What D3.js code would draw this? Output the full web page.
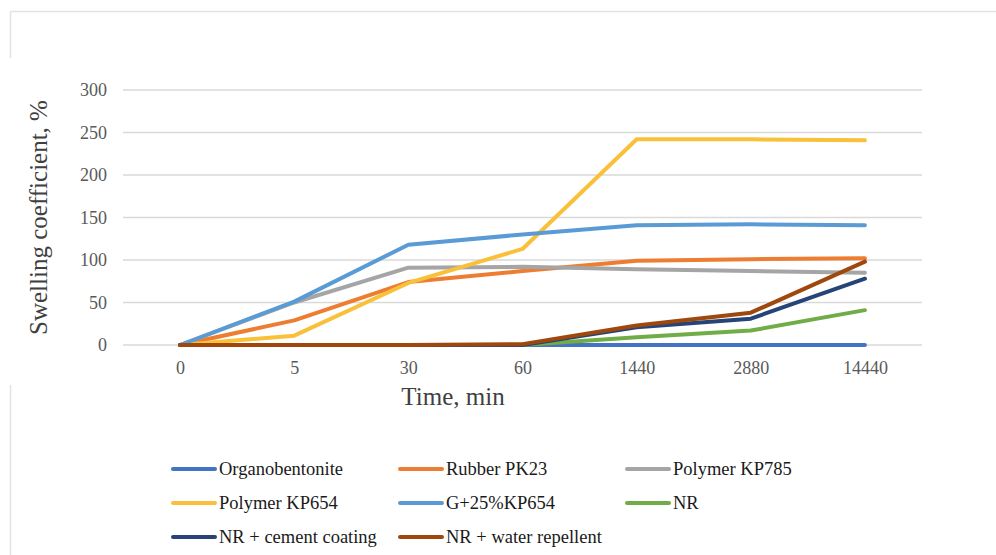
<!DOCTYPE html>
<html>
<head>
<meta charset="utf-8">
<script src="https://cdn.jsdelivr.net/npm/d3@7"></script>
<style>
  html, body { margin: 0; padding: 0; background: #fff; }
  svg { display: block; }
  text { font-family: "Liberation Serif", "Times New Roman", serif; }
</style>
</head>
<body>
<svg id="chart" width="996" height="555"></svg>
<script>
// Time points (min) on the category axis
const times = ["0", "5", "30", "60", "1440", "2880", "14440"];

// Swelling coefficient (%) per material
const organobentonite   = [0, 0, 0, 0, 0, 0, 0];
const rubberPK23        = [0, 29, 74, 87, 99, 101, 102];
const polymerKP785      = [0, 50, 91, 92, 89, 87, 85];
const polymerKP654      = [0, 11, 73, 113, 242, 242, 241];
const g25KP654          = [0, 51, 118, 130, 141, 142, 141];
const nr                = [0, 0, 0, 0, 9, 17, 41];
const nrCement          = [0, 0, 0, 0, 21, 31, 78];
const nrWaterRepellent  = [0, 0, 0, 1, 23, 38, 98];

const yTicks = [0, 50, 100, 150, 200, 250, 300];

const seriesNames  = ["Organobentonite", "Rubber PK23", "Polymer KP785", "Polymer KP654",
                      "G+25%KP654", "NR", "NR + cement coating", "NR + water repellent"];
const seriesValues = [organobentonite, rubberPK23, polymerKP785, polymerKP654,
                      g25KP654, nr, nrCement, nrWaterRepellent];
const seriesColors = ["#4472C4", "#ED7D31", "#A5A5A5", "#F9C03A",
                      "#5B9BD5", "#70AD47", "#264478", "#9E480E"];

const svg = d3.select("#chart");

// Partial frame around the chart area
const frame = svg.append("g").attr("stroke", "#e3e3e3").attr("stroke-width", 1.5).attr("fill", "none");
frame.append("line").attr("x1", 10.5).attr("x2", 996).attr("y1", 11.5).attr("y2", 11.5);
frame.append("line").attr("x1", 10.5).attr("x2", 10.5).attr("y1", 11.5).attr("y2", 58);
frame.append("line").attr("x1", 10.5).attr("x2", 10.5).attr("y1", 385).attr("y2", 555);

const plot = { left: 123, right: 922, top: 90, bottom: 345 };

const x = d3.scalePoint().domain(times).range([plot.left, plot.right]).padding(0.5);
const y = d3.scaleLinear().domain([0, 300]).range([plot.bottom, plot.top]);

// Horizontal gridlines
svg.append("g")
  .selectAll("line")
  .data(yTicks)
  .join("line")
  .attr("x1", plot.left).attr("x2", plot.right)
  .attr("y1", d => y(d)).attr("y2", d => y(d))
  .attr("stroke", "#d9d9d9").attr("stroke-width", 1.5);

// Y axis tick labels
const yAxis = d3.axisLeft(y).tickValues(yTicks).tickSize(0).tickPadding(0);
svg.append("g")
  .attr("transform", `translate(${plot.left - 16},0)`)
  .call(yAxis)
  .call(g => g.select(".domain").remove())
  .call(g => g.selectAll("text")
    .attr("fill", "#595959").attr("font-size", 18)
    .attr("font-family", "Liberation Serif"));

// X axis tick labels
const xAxis = d3.axisBottom(x).tickSize(0).tickPadding(0);
svg.append("g")
  .attr("transform", `translate(0,${plot.bottom + 16})`)
  .call(xAxis)
  .call(g => g.select(".domain").remove())
  .call(g => g.selectAll("text")
    .attr("fill", "#595959").attr("font-size", 18)
    .attr("font-family", "Liberation Serif"));

// Axis titles
svg.append("text")
  .attr("x", 453).attr("y", 405)
  .attr("text-anchor", "middle")
  .attr("font-size", 25).attr("fill", "#404040")
  .text("Time, min");

svg.append("text")
  .attr("transform", `translate(47,${(plot.top + plot.bottom) / 2}) rotate(-90)`)
  .attr("text-anchor", "middle")
  .attr("font-size", 25).attr("fill", "#404040")
  .text("Swelling coefficient, %");

// Series lines
const line = d3.line().x((d, i) => x(times[i])).y(d => y(d));
svg.append("g")
  .selectAll("path")
  .data(seriesValues)
  .join("path")
  .attr("d", d => line(d))
  .attr("fill", "none")
  .attr("stroke", (d, i) => seriesColors[i])
  .attr("stroke-width", 4)
  .attr("stroke-linejoin", "round")
  .attr("stroke-linecap", "round");

// Legend: three columns
const legend = svg.append("g");
const items = legend.selectAll("g")
  .data(seriesNames)
  .join("g")
  .attr("transform", (d, i) => `translate(${173 + (i % 3) * 227},${469 + Math.floor(i / 3) * 34})`);
items.append("line")
  .attr("x1", 0).attr("x2", 42).attr("y1", 0).attr("y2", 0)
  .attr("stroke", (d, i) => seriesColors[i])
  .attr("stroke-width", 4).attr("stroke-linecap", "round");
items.append("text")
  .attr("x", 46).attr("y", 0).attr("dy", "0.34em")
  .attr("font-size", 18.5).attr("fill", "#1a1a1a")
  .text(d => d);
</script>
</body>
</html>
